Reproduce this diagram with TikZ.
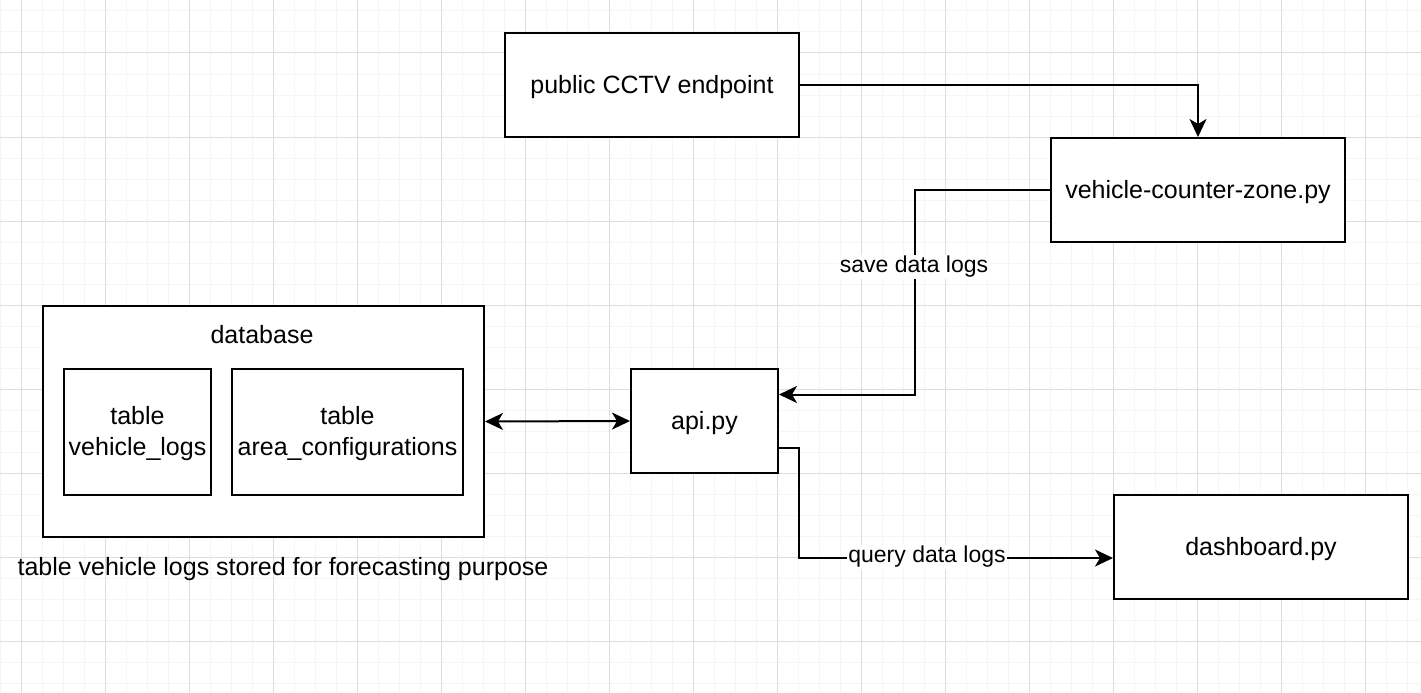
\documentclass[tikz,border=0pt]{standalone}
\usepackage{fontspec}
\setmainfont{Liberation Sans}
\usetikzlibrary{arrows.meta,calc}
\begin{document}
\begin{tikzpicture}[x=1pt,y=-1pt,
  box/.style={draw=black,line width=2pt,fill=white,inner sep=0pt,anchor=north west,align=center,font=\fontsize{25}{31}\selectfont,text depth=2pt},
  txt/.style={inner sep=0pt,align=center,font=\fontsize{25}{31}\selectfont},
  elabel/.style={fill=white,inner sep=1pt,font=\fontsize{23}{28}\selectfont},
  conn/.style={line width=2pt,-{Stealth[length=18pt,width=17pt,inset=5pt]}},
  dconn/.style={line width=2pt,{Stealth[length=18pt,width=17pt,inset=5pt]}-{Stealth[length=18pt,width=17pt,inset=5pt]}},
  minorgrid/.style={draw=black!4,line width=1pt},
  majorgrid/.style={draw=black!13,line width=1pt}]
\useasboundingbox (0,0) rectangle (1421,693);
\fill[white] (0,0) rectangle (1421,693);
% grid
\foreach \x in {0,21,...,1420} \draw[minorgrid] (\x,0) -- (\x,693);
\foreach \y in {11,32,...,692} \draw[minorgrid] (0,\y) -- (1421,\y);
\foreach \x in {21,105,...,1420} \draw[majorgrid] (\x,0) -- (\x,693);
\foreach \y in {53,137,...,692} \draw[majorgrid] (0,\y) -- (1421,\y);
% nodes
\node[box,minimum width=294pt,minimum height=104pt] (cctv) at (504,32) {public CCTV endpoint};
\node[box,minimum width=294pt,minimum height=104pt] (vcz) at (1050,137) {vehicle-counter-zone.py};
\node[box,minimum width=441pt,minimum height=231pt] (db) at (42,305) {};
\node[txt] (dblabel) at (262,335) {database};
\node[box,minimum width=147pt,minimum height=126pt] (tvl) at (63,368) {table\\vehicle\_logs};
\node[box,minimum width=231pt,minimum height=126pt] (tac) at (231,368) {table\\area\_configurations};
\node[box,minimum width=147pt,minimum height=104pt] (api) at (630,368) {api.py};
\node[box,minimum width=294pt,minimum height=104pt] (dash) at (1113,494) {dashboard.py};
\node[txt] (cap) at (283,569) {table vehicle logs stored for forecasting purpose};
% connectors
\draw[conn] (cctv.east) -| (vcz.north);
\coordinate (a1) at ($(api.north east)!0.25!(api.south east)$);
\coordinate (s1) at ($(a1)+(136,0)$);
\draw[conn] (vcz.west) -| (s1) -- (a1);
\node[elabel] (lsave) at (914,267) {save data logs};
\draw[dconn] (db.east) -- (api.west);
\coordinate (a2) at ($(api.north east)!0.75!(api.south east)$);
\coordinate (d2) at ($(dash.west)+(0,11)$);
\draw[conn] (a2) -- ++(20,0) |- (d2);
\node[elabel] (lquery) at (927,557) {query data logs};
\end{tikzpicture}
\end{document}
